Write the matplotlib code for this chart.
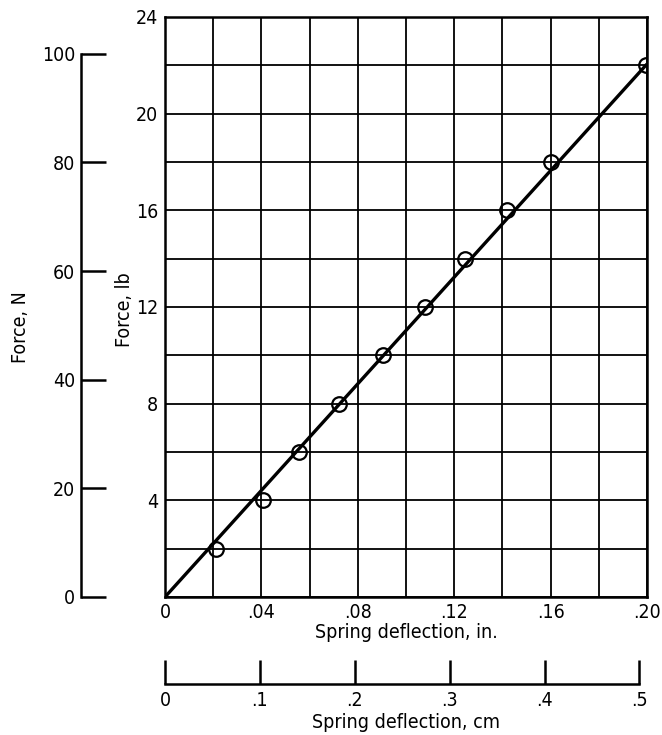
import matplotlib
matplotlib.use("Agg")
import matplotlib.pyplot as plt
from matplotlib.ticker import FixedLocator, FixedFormatter

plt.rcParams['font.family'] = ['DejaVu Sans']
plt.rcParams['font.stretch'] = 'condensed'

# measured points
deflection_in = [0.021, 0.0405, 0.0556, 0.072, 0.0905, 0.108, 0.1245, 0.142, 0.160, 0.1995]
force_lb = [2, 4, 6, 8, 10, 12, 14, 16, 18, 22]

# straight fit through origin
fit_in = [0.0, 0.1995]
fit_lb = [0.0, 22.0]

lb_ticks = [4, 8, 12, 16, 20, 24]
lb_labels = ['4', '8', '12', '16', '20', '24']
in_ticks = [0, 0.04, 0.08, 0.12, 0.16, 0.20]
in_labels = ['0', '.04', '.08', '.12', '.16', '.20']
n_ticks = [0, 20, 40, 60, 80, 100]
n_labels = ['0', '20', '40', '60', '80', '100']
cm_ticks = [0, 0.1, 0.2, 0.3, 0.4, 0.5]
cm_labels = ['0', '.1', '.2', '.3', '.4', '.5']

LB_TO_N = 4.44822
IN_TO_CM = 2.54

W, H = 662, 735
fig = plt.figure(figsize=(W / 100, H / 100), dpi=100)

def fx(px):
    return px / W

def fy(py):
    return 1 - py / H

left, right, top, bottom = 165, 647, 17, 597
ax = fig.add_axes([fx(left), fy(bottom), fx(right - left), fy(top) - fy(bottom)])
ax.set_xlim(0, 0.2)
ax.set_ylim(0, 24)
grid_x = [i * 0.02 for i in range(11)]
grid_y = list(range(0, 25, 2))
ax.xaxis.set_major_locator(FixedLocator(grid_x))
ax.yaxis.set_major_locator(FixedLocator(grid_y))
xl = [in_labels[in_ticks.index(round(v, 2))] if round(v, 2) in in_ticks else '' for v in grid_x]
yl = [lb_labels[lb_ticks.index(v)] if v in lb_ticks else '' for v in grid_y]
ax.xaxis.set_major_formatter(FixedFormatter(xl))
ax.yaxis.set_major_formatter(FixedFormatter(yl))
ax.grid(True, color='black', linewidth=1.3)
ax.tick_params(length=0, labelsize=14)
ax.tick_params(axis='x', pad=4)
ax.tick_params(axis='y', pad=5)
for s in ax.spines.values():
    s.set_linewidth(1.8)

ax.plot(fit_in, fit_lb, color='black', linewidth=2.4, zorder=3)
ax.plot(deflection_in, force_lb, linestyle='none', marker='o', markersize=10.5,
        markerfacecolor='none', markeredgecolor='black', markeredgewidth=1.6, zorder=4)
ax.set_xlabel('Spring deflection, in.', fontsize=14)
ax.xaxis.set_label_coords(fx(406), fy(633), transform=fig.transFigure)
ax.set_ylabel('Force, lb', fontsize=14)
ax.yaxis.set_label_coords(fx(125), fy(310), transform=fig.transFigure)
ax.xaxis.label.set_va('center')
ax.yaxis.label.set_va('center')

# newton scale
axn = fig.add_axes([fx(81), fy(bottom), 0.001, fy(top) - fy(bottom)])
axn.set_ylim(0, 24 * LB_TO_N)
axn.set_xticks([])
for k in ['top', 'right', 'bottom']:
    axn.spines[k].set_visible(False)
axn.spines['left'].set_bounds(0, 100)
axn.spines['left'].set_linewidth(1.8)
axn.set_yticks(n_ticks)
axn.set_yticklabels(n_labels)
axn.tick_params(axis='y', direction='in', length=18, width=1.8, labelsize=14, pad=4)
axn.set_ylabel('Force, N', fontsize=14)
axn.yaxis.set_label_coords(fx(20), fy(327), transform=fig.transFigure)
axn.yaxis.label.set_va('center')
axn.patch.set_visible(False)

# centimetre scale
axc = fig.add_axes([fx(left), fy(684), fx(right - left), 0.001])
axc.set_xlim(0, 0.2 * IN_TO_CM)
axc.set_yticks([])
for k in ['top', 'right', 'left']:
    axc.spines[k].set_visible(False)
axc.spines['bottom'].set_bounds(0, 0.5)
axc.spines['bottom'].set_linewidth(1.8)
axc.set_xticks(cm_ticks)
axc.set_xticklabels(cm_labels)
axc.tick_params(axis='x', direction='in', length=17, width=1.8, labelsize=14, pad=5)
axc.set_xlabel('Spring deflection, cm', fontsize=14)
axc.xaxis.set_label_coords(fx(406), fy(723), transform=fig.transFigure)
axc.xaxis.label.set_va('center')
axc.patch.set_visible(False)

fig.savefig('out.png', dpi=100)
